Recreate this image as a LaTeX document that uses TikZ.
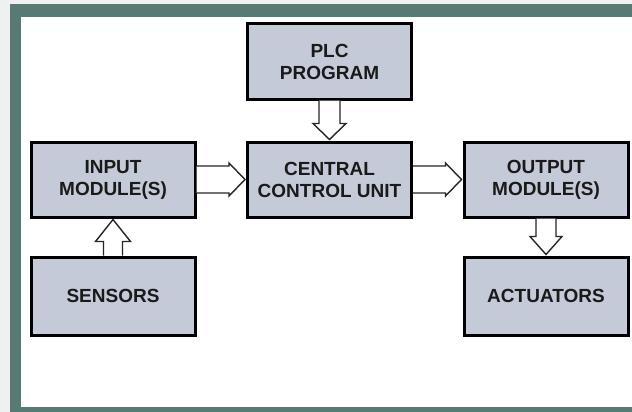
\documentclass[tikz,border=0pt]{standalone}
\usepackage{fontspec}
\setmainfont{Liberation Sans}
\usetikzlibrary{calc}
\definecolor{framecol}{RGB}{88,122,116}
\definecolor{boxfill}{RGB}{196,202,216}
\definecolor{margincol}{RGB}{238,241,240}
\definecolor{inkcol}{RGB}{26,26,26}
\tikzset{
  block/.style={draw=black, line width=3pt, fill=boxfill, inner sep=0pt,
    minimum width=164pt, minimum height=75pt, align=center, text=inkcol,
    font=\fontsize{19}{22}\selectfont\bfseries},
  hollow/.style={draw=black!85, line width=1.4pt, fill=white, line join=miter}
}
\begin{document}
\begin{tikzpicture}[x=1pt, y=-1pt]
  % page, frame and white panel
  \fill[margincol] (0,0) rectangle (632,412);
  \fill[framecol] (10,4) rectangle (632,412);
  \fill[white] (21,17) rectangle (632,407);
  \useasboundingbox (0,0) rectangle (632,412);

  % blocks
  \node[block] (plc) at (329.5,61.5) {PLC\\PROGRAM};
  \node[block] (input) at (113,179.5) {INPUT\\MODULE(S)};
  \node[block] (ccu) at (329.5,179.5) {CENTRAL\\CONTROL UNIT};
  \node[block] (output) at (546,179.5) {OUTPUT\\MODULE(S)};
  \node[block, minimum height=78pt] (sensors) at (113,296) {SENSORS};
  \node[block, minimum height=78pt] (actuators) at (546,296) {ACTUATORS};

  % hollow block arrows
  % PLC program -> central control unit
  \draw[hollow] let \p1=(plc.south), \p2=(ccu.north) in
    (\x1-10.5pt,\y1) -- (\x1-10.5pt,\y2+17pt) -- (\x1-16.5pt,\y2+17pt)
    -- (\x1,\y2+1pt) -- (\x1+16.5pt,\y2+17pt) -- (\x1+10.5pt,\y2+17pt)
    -- (\x1+10.5pt,\y1);
  % sensors -> input module(s)
  \draw[hollow] let \p1=(sensors.north), \p2=(input.south) in
    (\x1-9.5pt,\y1) -- (\x1-9.5pt,\y2-23pt) -- (\x1-17.5pt,\y2-23pt)
    -- (\x1,\y2-1pt) -- (\x1+17.5pt,\y2-23pt) -- (\x1+9.5pt,\y2-23pt)
    -- (\x1+9.5pt,\y1);
  % output module(s) -> actuators
  \draw[hollow] let \p1=(output.south), \p2=(actuators.north) in
    (\x1-10pt,\y1) -- (\x1-10pt,\y2+19pt) -- (\x1-16pt,\y2+19pt)
    -- (\x1,\y2+1pt) -- (\x1+16pt,\y2+19pt) -- (\x1+10pt,\y2+19pt)
    -- (\x1+10pt,\y1);
  % input module(s) -> central control unit
  \draw[hollow] let \p1=(input.east), \p2=(ccu.west) in
    (\x1,\y1+13.5pt) -- (\x2-17pt,\y1+13.5pt) -- (\x2-17pt,\y1+16.5pt)
    -- (\x2-1pt,\y1) -- (\x2-17pt,\y1-16.5pt) -- (\x2-17pt,\y1-13.5pt)
    -- (\x1,\y1-13.5pt);
  % central control unit -> output module(s)
  \draw[hollow] let \p1=(ccu.east), \p2=(output.west) in
    (\x1,\y1+13.5pt) -- (\x2-17pt,\y1+13.5pt) -- (\x2-17pt,\y1+16.5pt)
    -- (\x2-1pt,\y1) -- (\x2-17pt,\y1-16.5pt) -- (\x2-17pt,\y1-13.5pt)
    -- (\x1,\y1-13.5pt);
\end{tikzpicture}
\end{document}
